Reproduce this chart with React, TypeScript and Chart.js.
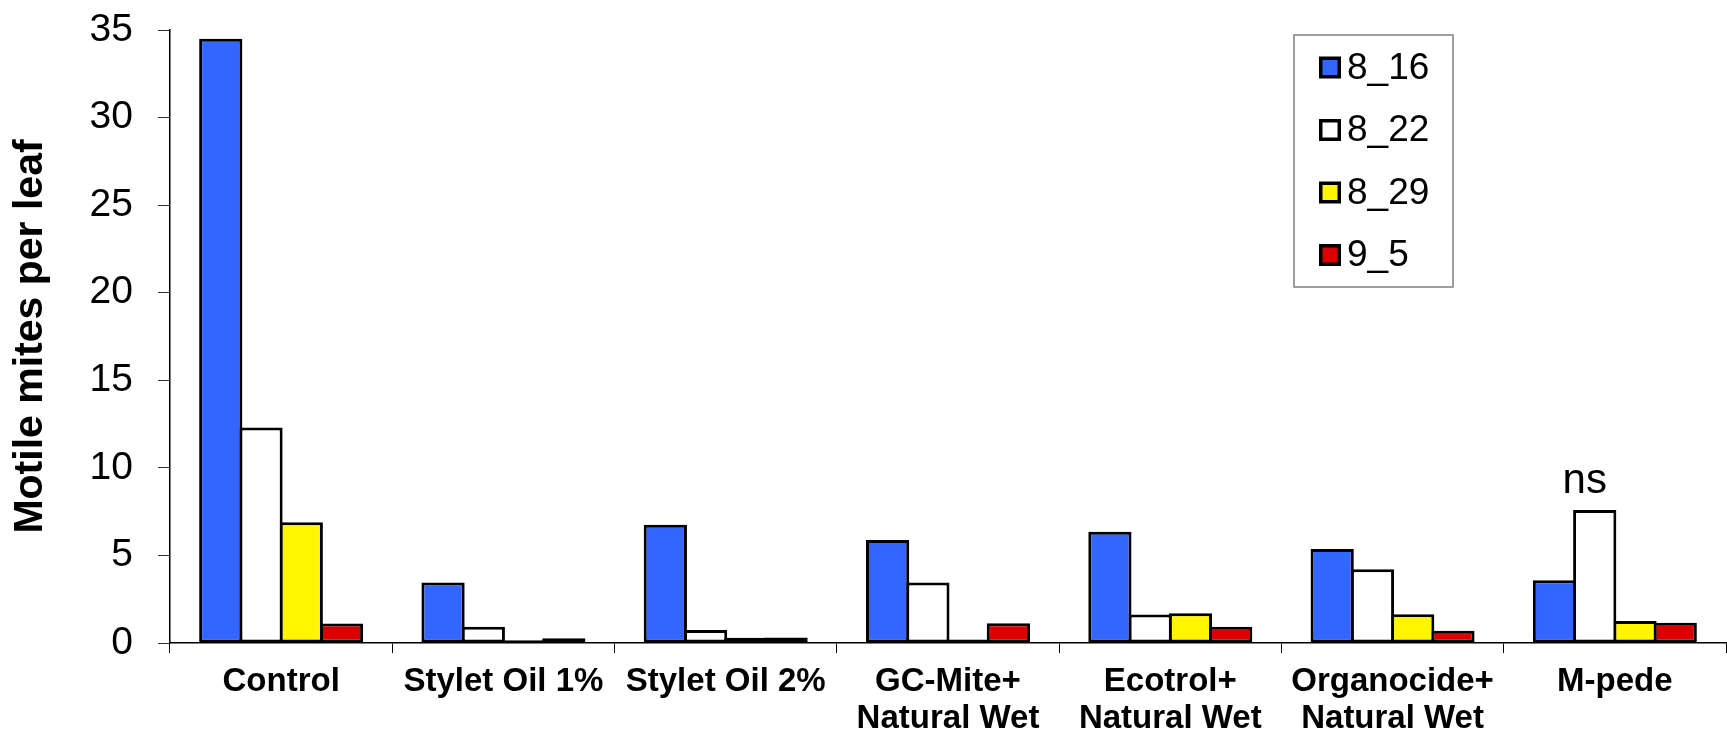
import React, { useEffect, useRef } from 'react';
import { Chart, registerables } from 'chart.js';

Chart.register(...registerables);

// ---- data ----
const categories: string[][] = [
  ['Control'],
  ['Stylet Oil 1%'],
  ['Stylet Oil 2%'],
  ['GC-Mite+', 'Natural Wet'],
  ['Ecotrol+', 'Natural Wet'],
  ['Organocide+', 'Natural Wet'],
  ['M-pede'],
];
const seriesLabels = ['8_16', '8_22', '8_29', '9_5'];
const values816 = [34.5, 3.45, 6.75, 5.88, 6.35, 5.36, 3.58];
const values822 = [12.3, 0.93, 0.74, 3.45, 1.63, 4.21, 7.6];
const values829 = [6.9, 0.15, 0.3, 0.2, 1.7, 1.64, 1.26];
const values95 = [1.12, 0.27, 0.32, 1.13, 0.93, 0.7, 1.15];
const seriesColors = ['#3366ff', '#ffffff', '#fff500', '#dd0000'];
const yMin = 0;
const yMax = 35;
const yStep = 5;
const yTitle = 'Motile mites per leaf';
const noteText = 'ns';
const noteSeries = 1;
const noteCategory = 6;

const FONT = '"Liberation Sans", Arial, sans-serif';

const legendPlugin = {
  id: 'boxLegend',
  afterDraw(chart: any) {
    const ctx = chart.ctx as CanvasRenderingContext2D;
    const x0 = 1294;
    const y0 = 35;
    const w = 159;
    const h = 252;
    ctx.save();
    ctx.fillStyle = '#ffffff';
    ctx.fillRect(x0, y0, w, h);
    ctx.strokeStyle = '#808080';
    ctx.lineWidth = 1.5;
    ctx.strokeRect(x0, y0, w, h);
    chart.data.datasets.forEach((ds: any, i: number) => {
      const cy = 67.5 + i * 62.5;
      ctx.fillStyle = '#000000';
      ctx.fillRect(1319, cy - 11, 22, 22);
      ctx.fillStyle = ds.backgroundColor;
      ctx.fillRect(1322.5, cy - 7.5, 15, 15);
      ctx.fillStyle = '#000000';
      ctx.font = `37px ${FONT}`;
      ctx.textBaseline = 'middle';
      ctx.textAlign = 'left';
      ctx.fillText(ds.label, 1347, cy + 1);
    });
    ctx.restore();
  },
};

const notePlugin = {
  id: 'noteText',
  afterDatasetsDraw(chart: any) {
    const meta = chart.getDatasetMeta(noteSeries);
    const el = meta.data[noteCategory];
    if (!el) return;
    const ctx = chart.ctx as CanvasRenderingContext2D;
    ctx.save();
    ctx.fillStyle = '#000000';
    ctx.font = `42px ${FONT}`;
    ctx.textAlign = 'center';
    ctx.textBaseline = 'alphabetic';
    ctx.fillText(noteText, el.x - 10, el.y - 17);
    ctx.restore();
  },
};

export default function App() {
  const ref = useRef<HTMLCanvasElement | null>(null);

  useEffect(() => {
    document.body.style.margin = '0';
    const canvas = ref.current;
    if (!canvas) return;
    const series = [values816, values822, values829, values95];
    const chart = new Chart(canvas, {
      type: 'bar',
      data: {
        labels: categories,
        datasets: series.map((vals, i) => ({
          label: seriesLabels[i],
          data: vals,
          backgroundColor: seriesColors[i],
          borderColor: '#000000',
          borderWidth: 3,
          borderSkipped: false,
          categoryPercentage: 0.7243,
          barPercentage: 1.0745,
        })),
      },
      options: {
        responsive: false,
        animation: false,
        devicePixelRatio: 1,
        layout: { padding: { top: 30, right: 1, bottom: 0, left: 0 } },
        plugins: {
          legend: { display: false },
          tooltip: { enabled: false },
        },
        scales: {
          x: {
            offset: true,
            border: { display: true, color: '#000000', width: 1.5 },
            grid: {
              offset: true,
              drawOnChartArea: false,
              drawTicks: true,
              tickLength: 10,
              color: '#000000',
              lineWidth: 1,
            },
            ticks: {
              autoSkip: false,
              maxRotation: 0,
              minRotation: 0,
              padding: 11,
              color: '#000000',
              font: { family: FONT, size: 33, weight: 'bold', lineHeight: 1.1 },
            },
            afterFit(scale: any) {
              scale.height = 92;
            },
          },
          y: {
            min: yMin,
            max: yMax,
            border: { display: true, color: '#000000', width: 1.5 },
            grid: {
              drawOnChartArea: false,
              drawTicks: true,
              tickLength: 12,
              color: '#333333',
              lineWidth: 1,
            },
            ticks: {
              stepSize: yStep,
              padding: 25,
              color: '#000000',
              font: { family: FONT, size: 39 },
            },
            title: {
              display: true,
              text: yTitle,
              color: '#000000',
              padding: { top: 6, bottom: 0 },
              font: { family: FONT, size: 41, weight: 'bold', lineHeight: 1.2 },
            },
            afterFit(scale: any) {
              scale.width = 170;
              scale.paddingTop = 0;
              scale.paddingBottom = 0;
            },
          },
        },
      },
      plugins: [notePlugin, legendPlugin],
    });
    return () => {
      chart.destroy();
    };
  }, []);

  return (
    <div style={{ width: 1727, height: 735 }}>
      <canvas ref={ref} width={1727} height={735} style={{ display: 'block' }} />
    </div>
  );
}
